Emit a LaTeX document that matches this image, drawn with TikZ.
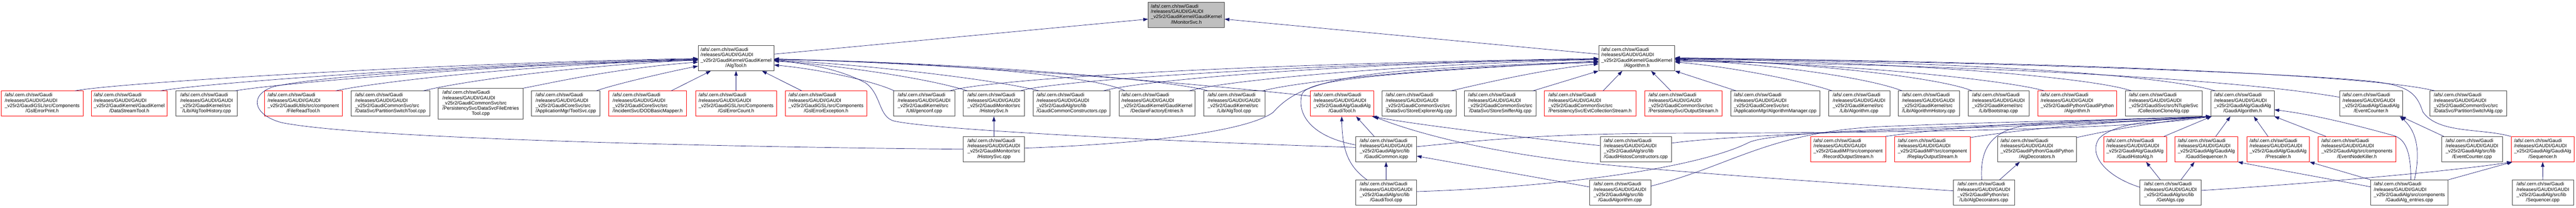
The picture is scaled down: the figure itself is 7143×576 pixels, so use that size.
\documentclass[tikz,border=0pt]{standalone}
\usepackage{fontspec}
\setmainfont{Liberation Sans}
\usetikzlibrary{arrows.meta,calc}
\definecolor{edgec}{HTML}{191970}
\definecolor{boxk}{HTML}{404040}
\definecolor{boxr}{HTML}{FF0000}
\definecolor{topfill}{HTML}{BFBFBF}
\newcommand{\hdl}{/afs/.cern.ch/sw/Gaudi\\/releases/GAUDI/GAUDI}
\newcommand{\fl}[2]{\begin{tabular}{@{}l@{}}\hdl\\#1\\\multicolumn{1}{@{}c@{}}{#2}\end{tabular}}
\begin{document}
\begin{tikzpicture}[x=0.75pt,y=-0.75pt,
  kbox/.style={draw=boxk, line width=0.75pt, fill=white, rectangle, inner xsep=2pt, inner ysep=2pt, minimum height=52.5pt, font=\fontsize{10}{11}\selectfont, text=black},
  rbox/.style={kbox, draw=boxr},
  bw/.style={minimum width={#1*0.75pt}},
  ebl/.style={draw=edgec, line width=0.75pt, -{Triangle[length=10pt,width=7pt]}}]
\useasboundingbox (0,0) rectangle (7143,576);

% ---------- nodes ----------
\node[kbox,bw=211,fill=topfill] (IMon) at (3289.5,41) {\fl{\_v25r2/GaudiKernel/GaudiKernel}{/IMonitorSvc.h}};
\node[kbox,bw=210] (AlgToolH) at (2041,161.3) {\fl{\_v25r2/GaudiKernel/GaudiKernel}{/AlgTool.h}};
\node[kbox,bw=211] (AlgH) at (4538.5,161.3) {\fl{\_v25r2/GaudiKernel/GaudiKernel}{/Algorithm.h}};

\node[rbox,bw=226] (n1) at (117,287.6) {\fl{\_v25r2/GaudiGSL/src/Components}{/GslErrorPrint.h}};
\node[rbox,bw=211] (n2) at (358.5,287.6) {\fl{\_v25r2/GaudiKernel/GaudiKernel}{/DataStreamTool.h}};
\node[kbox,bw=170] (n3) at (573,287.6) {\fl{\_v25r2/GaudiKernel/src}{/Lib/AlgToolHistory.cpp}};
\node[rbox,bw=216] (n4) at (841,287.6) {\fl{\_v25r2/GaudiUtils/src/component}{/FileReadTool.h}};
\node[kbox,bw=219] (n5) at (1082.5,287.6) {\fl{\_v25r2/GaudiCommonSvc/src}{/DataSvc/PartitionSwitchTool.cpp}};
\node[kbox,bw=236,minimum height=63.75pt] (n6) at (1333,287.6) {\fl{\_v25r2/GaudiCommonSvc/src\\/PersistencySvc/DataSvcFileEntries}{Tool.cpp}};
\node[kbox,bw=190] (n7) at (1569,287.6) {\fl{\_v25r2/GaudiCoreSvc/src}{/ApplicationMgr/ToolSvc.cpp}};
\node[rbox,bw=216] (n8) at (1796,287.6) {\fl{\_v25r2/GaudiCoreSvc/src}{/IncidentSvc/DODBasicMapper.h}};
\node[rbox,bw=225] (n9) at (2041,287.6) {\fl{\_v25r2/GaudiGSL/src/Components}{/GslErrorCount.h}};
\node[rbox,bw=225] (n10) at (2290.5,287.6) {\fl{\_v25r2/GaudiGSL/src/Components}{/GslErrorException.h}};
\node[kbox,bw=169] (n11) at (2562.5,287.6) {\fl{\_v25r2/GaudiKernel/src}{/Util/genconf.cpp}};
\node[kbox,bw=170] (n12) at (2756,287.6) {\fl{\_v25r2/GaudiMonitor/src}{/HistorySvc.h}};
\node[kbox,bw=213] (n13) at (2971.5,287.6) {\fl{\_v25r2/GaudiAlg/src/lib}{/GaudiCommonConstructors.cpp}};
\node[kbox,bw=210] (n14) at (3208,287.6) {\fl{\_v25r2/GaudiKernel/GaudiKernel}{/DeclareFactoryEntries.h}};
\node[kbox,bw=170] (n15) at (3422,287.6) {\fl{\_v25r2/GaudiKernel/src}{/Lib/AlgTool.cpp}};
\node[rbox,bw=175] (n16) at (3721.5,287.6) {\fl{\_v25r2/GaudiAlg/GaudiAlg}{/GaudiTool.h}};
\node[kbox,bw=205] (n17) at (3934.5,287.6) {\fl{\_v25r2/GaudiCommonSvc/src}{/DataSvc/StoreExplorerAlg.cpp}};
\node[kbox,bw=198] (n18) at (4160,287.6) {\fl{\_v25r2/GaudiCommonSvc/src}{/DataSvc/StoreSnifferAlg.cpp}};
\node[rbox,bw=254] (n19) at (4409,287.6) {\fl{\_v25r2/GaudiCommonSvc/src}{/PersistencySvc/EvtCollectionStream.h}};
\node[rbox,bw=215] (n20) at (4668,287.6) {\fl{\_v25r2/GaudiCommonSvc/src}{/PersistencySvc/OutputStream.h}};
\node[kbox,bw=247] (n21) at (4922.5,287.6) {\fl{\_v25r2/GaudiCoreSvc/src}{/ApplicationMgr/AlgorithmManager.cpp}};
\node[kbox,bw=170] (n22) at (5155,287.6) {\fl{\_v25r2/GaudiKernel/src}{/Lib/Algorithm.cpp}};
\node[kbox,bw=170] (n23) at (5348,287.6) {\fl{\_v25r2/GaudiKernel/src}{/Lib/AlgorithmHistory.cpp}};
\node[kbox,bw=169] (n24) at (5541.5,287.6) {\fl{\_v25r2/GaudiKernel/src}{/Lib/Bootstrap.cpp}};
\node[rbox,bw=218] (n25) at (5760,287.6) {\fl{\_v25r2/GaudiPython/GaudiPython}{/Algorithm.h}};
\node[kbox,bw=213] (n26) at (5999.5,287.6) {\fl{\_v25r2/GaudiSvc/src/NTupleSvc}{/CollectionCloneAlg.cpp}};
\node[kbox,bw=175] (n27) at (6218.5,287.6) {\fl{\_v25r2/GaudiAlg/GaudiAlg}{/GaudiAlgorithm.h}};
\node[kbox,bw=175] (n28) at (6574.5,287.6) {\fl{\_v25r2/GaudiAlg/GaudiAlg}{/EventCounter.h}};
\node[kbox,bw=214] (n29) at (6844,287.6) {\fl{\_v25r2/GaudiCommonSvc/src}{/DataSvc/PartitionSwitchAlg.cpp}};

\node[kbox,bw=170] (HistorySvcCpp) at (2756,414) {\fl{\_v25r2/GaudiMonitor/src}{/HistorySvc.cpp}};
\node[kbox,bw=169] (GaudiCommonIcpp) at (3843.5,414) {\fl{\_v25r2/GaudiAlg/src/lib}{/GaudiCommon.icpp}};
\node[kbox,bw=198] (GaudiHistosConstructors) at (4536,414) {\fl{\_v25r2/GaudiAlg/src/lib}{/GaudiHistosConstructors.cpp}};
\node[rbox,bw=209] (RecordOutputStream) at (5124.5,414) {\fl{\_v25r2/GaudiMP/src/component}{/RecordOutputStream.h}};
\node[rbox,bw=209] (ReplayOutputStream) at (5358.5,414) {\fl{\_v25r2/GaudiMP/src/component}{/ReplayOutputStream.h}};
\node[kbox,bw=219] (AlgDecoratorsH) at (5648.5,414) {\fl{\_v25r2/GaudiPython/GaudiPython}{/AlgDecorators.h}};
\node[rbox,bw=174] (GaudiHistoAlg) at (5920,414) {\fl{\_v25r2/GaudiAlg/GaudiAlg}{/GaudiHistoAlg.h}};
\node[rbox,bw=174] (GaudiSequencerH) at (6118,414) {\fl{\_v25r2/GaudiAlg/GaudiAlg}{/GaudiSequencer.h}};
\node[rbox,bw=174] (PrescalerH) at (6317,414) {\fl{\_v25r2/GaudiAlg/GaudiAlg}{/Prescaler.h}};
\node[rbox,bw=215] (EventNodeKiller) at (6535.5,414) {\fl{\_v25r2/GaudiAlg/src/components}{/EventNodeKiller.h}};
\node[kbox,bw=169] (EventCounterCpp) at (6854.5,414) {\fl{\_v25r2/GaudiAlg/src/lib}{/EventCounter.cpp}};
\node[rbox,bw=175] (SequencerH) at (7050.5,414) {\fl{\_v25r2/GaudiAlg/GaudiAlg}{/Sequencer.h}};

\node[kbox,bw=169] (GaudiToolCpp) at (3843.5,534.5) {\fl{\_v25r2/GaudiAlg/src/lib}{/GaudiTool.cpp}};
\node[kbox,bw=170] (GaudiAlgorithmCpp) at (4492,534.5) {\fl{\_v25r2/GaudiAlg/src/lib}{/GaudiAlgorithm.cpp}};
\node[kbox,bw=170] (AlgDecoratorsCpp) at (5501,534.5) {\fl{\_v25r2/GaudiPython/src}{/Lib/AlgDecorators.cpp}};
\node[kbox,bw=169] (GetAlgs) at (6018.5,534.5) {\fl{\_v25r2/GaudiAlg/src/lib}{/GetAlgs.cpp}};
\node[kbox,bw=214] (GaudiAlgEntries) at (6681,534.5) {\fl{\_v25r2/GaudiAlg/src/components}{/GaudiAlg\_entries.cpp}};
\node[kbox,bw=170] (SequencerCpp) at (7051,534.5) {\fl{\_v25r2/GaudiAlg/src/lib}{/Sequencer.cpp}};

% ---------- edges ----------
% to IMonitorSvc.h
\draw[ebl] ($(AlgToolH.east)+(0,-11)$) -- ($(IMon.west)+(0,12)$);
\draw[ebl] ($(AlgH.west)+(0,-11)$) -- ($(IMon.east)+(0,12)$);

% west side of AlgTool.h
\draw[ebl] ($(n1.north)+(91,0)$) .. controls (300,232) and (1200,175) .. ($(AlgToolH.west)+(0,1)$);
\draw[ebl] ($(n2.north)+(87,0)$) .. controls (520,236) and (1200,180) .. ($(AlgToolH.west)+(0,2)$);
\draw[ebl] ($(n3.north)+(79,0)$) .. controls (720,238) and (1300,182) .. ($(AlgToolH.west)+(0,3)$);
\draw[ebl] ($(n4.north)+(90,0)$) .. controls (1000,235) and (1400,182) .. ($(AlgToolH.west)+(0,4)$);
\draw[ebl] ($(n5.north)+(91,0)$) .. controls (1250,232) and (1550,185) .. ($(AlgToolH.west)+(0,5)$);
\draw[ebl] (n6.north east) .. controls (1520,232) and (1700,190) .. ($(AlgToolH.west)+(0,11)$);
\draw[ebl] ($(n7.north)+(84,0)$) .. controls (1700,235) and (1850,200) .. ($(AlgToolH.west)+(0,22)$);
\draw[ebl] (HistorySvcCpp.west) .. controls (2000,408) and (1000,385) .. (780,340) .. controls (700,318) and (690,262) .. (760,240) .. controls (950,200) and (1500,178) .. ($(AlgToolH.west)+(0,6)$);

% bottom of AlgTool.h
\draw[ebl] ($(n8.north)+(65,0)$) -- ($(AlgToolH.south)+(-70,0)$);
\draw[ebl] (n9.north) -- (AlgToolH.south);
\draw[ebl] ($(n10.north)+(-67,0)$) -- ($(AlgToolH.south)+(72,0)$);

% east side of AlgTool.h
\draw[ebl] ($(n11.north west)+(2,0)$) .. controls (2440,232) and (2300,195) .. ($(AlgToolH.east)+(0,19)$);
\draw[ebl] ($(n12.north west)+(12,0)$) .. controls (2600,225) and (2400,190) .. ($(AlgToolH.east)+(0,6)$);
\draw[ebl] ($(n13.north west)+(17,0)$) .. controls (2780,225) and (2450,183) .. ($(AlgToolH.east)+(0,5)$);
\draw[ebl] ($(n14.north west)+(17,0)$) .. controls (3040,210) and (2600,172) .. ($(AlgToolH.east)+(0,4)$);
\draw[ebl] ($(n15.north west)+(13,0)$) .. controls (3250,222) and (2700,175) .. ($(AlgToolH.east)+(0,3)$);
\draw[ebl] ($(n16.west)+(0,-21)$) .. controls (3300,230) and (2700,180) .. ($(AlgToolH.east)+(0,2)$);
\draw[ebl] ($(GaudiCommonIcpp.west)+(0,-5)$) .. controls (3300,395) and (2600,362) .. (2480,336) .. controls (2435,325) and (2445,262) .. (2400,230) .. controls (2330,192) and (2230,174) .. ($(AlgToolH.east)+(0,8)$);

% west side of Algorithm.h
\draw[ebl] ($(n11.north east)+(-14,0)$) .. controls (2720,225) and (3300,180) .. ($(AlgH.west)+(0,1)$);
\draw[ebl] ($(n12.north east)+(-12,0)$) .. controls (2900,228) and (3500,180) .. ($(AlgH.west)+(0,2)$);
\draw[ebl] ($(n13.north east)+(-19,0)$) .. controls (3150,225) and (3700,175) .. ($(AlgH.west)+(0,3)$);
\draw[ebl] ($(n14.north east)+(-16,0)$) .. controls (3400,222) and (3900,178) .. ($(AlgH.west)+(0,4)$);
\draw[ebl] ($(n15.north east)+(-6,0)$) .. controls (3600,225) and (4000,185) .. ($(AlgH.west)+(0,12)$);
\draw[ebl] ($(HistorySvcCpp.east)+(0,-3)$) .. controls (3200,398) and (3460,362) .. (3530,312) .. controls (3575,262) and (3640,218) .. (3900,196) .. controls (4100,182) and (4300,175) .. ($(AlgH.west)+(0,10)$);
\draw[ebl] ($(GaudiCommonIcpp.west)+(0,-12)$) .. controls (3640,380) and (3595,320) .. (3610,262) .. controls (3625,222) and (3800,205) .. ($(AlgH.west)+(0,8)$);
\draw[ebl] ($(n17.north)+(89,0)$) .. controls (4150,222) and (4300,190) .. ($(AlgH.west)+(0,16)$);
\draw[ebl] ($(n18.north east)+(-9,0)$) -- (AlgH.south west);

% bottom of Algorithm.h
\draw[ebl] ($(n19.north)+(36,0)$) -- ($(AlgH.south)+(-40,0)$);
\draw[ebl] ($(n20.north)+(-35,0)$) -- ($(AlgH.south)+(40,0)$);
\draw[ebl] ($(n21.north west)+(16,0)$) -- (AlgH.south east);

% east side of Algorithm.h
\draw[ebl] ($(n22.north west)+(11,0)$) .. controls (5000,225) and (4800,185) .. ($(AlgH.east)+(0,11)$);
\draw[ebl] ($(n23.north west)+(12,0)$) .. controls (5180,215) and (4900,176) .. ($(AlgH.east)+(0,4)$);
\draw[ebl] ($(n24.north west)+(12,0)$) .. controls (5380,215) and (5000,172) .. ($(AlgH.east)+(0,3)$);
\draw[ebl] ($(n25.north west)+(18,0)$) .. controls (5600,230) and (5200,178) .. ($(AlgH.east)+(0,6)$);
\draw[ebl] ($(n26.north west)+(18,0)$) .. controls (5800,215) and (5300,172) .. ($(AlgH.east)+(0,2)$);
\draw[ebl] ($(n27.north west)+(13,0)$) .. controls (6000,210) and (5500,172) .. ($(AlgH.east)+(0,1)$);
\draw[ebl] ($(n28.west)+(0,-18)$) .. controls (6200,220) and (5500,180) .. ($(AlgH.east)+(0,9)$);
\draw[ebl] ($(n29.north west)+(15,0)$) .. controls (6600,212) and (5800,172) .. (AlgH.east);
\draw[ebl] (SequencerH.north west) .. controls (6880,355) and (6760,372) .. (6718,310) .. controls (6700,255) and (6675,235) .. (6560,224) .. controls (6300,200) and (5500,172) .. ($(AlgH.east)+(0,-1)$);

% GaudiTool.h / GaudiCommon.icpp
\draw[ebl] ($(GaudiToolCpp.north west)+(32,0)$) .. controls (3740,462) and (3722,420) .. ($(n16.south)+(-1,0)$);
\draw[ebl] ($(GaudiCommonIcpp.north)+(-33,0)$) -- ($(n16.south)+(39,0)$);
\draw[ebl] (GaudiToolCpp.north) -- (GaudiCommonIcpp.south);
\draw[ebl] ($(GaudiHistosConstructors.west)+(0,-10)$) .. controls (4300,390) and (3950,350) .. ($(n16.south east)+(-5,0)$);
\draw[ebl] ($(AlgDecoratorsCpp.west)+(0,-5)$) .. controls (5100,508) and (4700,482) .. (4400,452) .. controls (4100,420) and (3900,360) .. (n16.south east);
\draw[ebl] ($(GaudiAlgorithmCpp.west)+(0,-16)$) -- ($(GaudiCommonIcpp.east)+(0,19)$);
\draw[ebl] (HistorySvcCpp.north) -- (n12.south);

% into GaudiAlgorithm.h
\draw[ebl] ($(GaudiCommonIcpp.east)+(0,-7)$) .. controls (4150,385) and (4300,372) .. (4600,370) .. controls (5300,368) and (5900,360) .. (n27.south west);
\draw[ebl] ($(GaudiHistosConstructors.east)+(0,-17)$) .. controls (4900,362) and (5800,352) .. (n27.south west);
\draw[ebl] ($(GaudiToolCpp.east)+(0,-3)$) .. controls (4300,520) and (4700,470) .. (4850,395) .. controls (4950,350) and (5900,345) .. (n27.south west);
\draw[ebl] ($(GaudiAlgorithmCpp.east)+(0,-18)$) .. controls (4800,460) and (4900,370) .. (5200,352) .. controls (5600,335) and (5950,332) .. (n27.south west);
\draw[ebl] ($(RecordOutputStream.north east)+(-1,0)$) .. controls (5500,340) and (5900,330) .. (n27.south west);
\draw[ebl] ($(ReplayOutputStream.north east)+(0,3)$) .. controls (5700,345) and (5950,335) .. (n27.south west);
\draw[ebl] ($(AlgDecoratorsCpp.north)+(-6,0)$) .. controls (5490,420) and (5515,362) .. (5620,348) .. controls (5800,332) and (6000,330) .. (n27.south west);
\draw[ebl] ($(AlgDecoratorsCpp.north east)+(-42,0)$) -- ($(AlgDecoratorsH.south)+(-48,0)$);
\draw[ebl] ($(AlgDecoratorsH.north east)+(0,3)$) .. controls (5900,350) and (6050,330) .. (n27.south west);
\draw[ebl] ($(GaudiHistoAlg.north east)+(-7,0)$) -- ($(n27.south west)+(2,0)$);
\draw[ebl] ($(GetAlgs.west)+(0,-15)$) .. controls (5840,490) and (5790,430) .. (5820,385) .. controls (5860,340) and (6000,330) .. (n27.south west);
\draw[ebl] ($(GaudiSequencerH.north)+(26,0)$) -- ($(n27.south)+(-34,0)$);
\draw[ebl] ($(PrescalerH.north)+(-28,0)$) -- ($(n27.south)+(31,0)$);
\draw[ebl] ($(EventNodeKiller.north west)+(22,0)$) -- (n27.south east);
\draw[ebl] ($(GaudiAlgEntries.north)+(4,0)$) .. controls (6685,420) and (6670,388) .. (6640,377) .. controls (6500,338) and (6400,316) .. ($(n27.east)+(0,17)$);

% GetAlgs.cpp
\draw[ebl] ($(GetAlgs.north)+(-28,0)$) -- ($(GaudiHistoAlg.south)+(31,0)$);
\draw[ebl] ($(GetAlgs.north)+(29,0)$) -- ($(GaudiSequencerH.south)+(-33,0)$);
\draw[ebl] ($(GetAlgs.east)+(0,-6)$) .. controls (6400,510) and (6800,475) .. ($(SequencerH.south west)+(2,0)$);

% GaudiAlg_entries.cpp etc.
\draw[ebl] ($(GaudiAlgEntries.north)+(14,0)$) .. controls (6712,420) and (6702,365) .. ($(n28.south)+(80,0)$);
\draw[ebl] ($(EventCounterCpp.north west)+(7,0)$) -- ($(n28.south)+(83,0)$);
\draw[ebl] (GaudiAlgEntries.north west) -- (PrescalerH.south east);
\draw[ebl] (GaudiAlgEntries.north east) -- ($(SequencerH.south west)+(4,0)$);
\draw[ebl] ($(GaudiAlgEntries.west)+(0,-16)$) .. controls (6450,495) and (6300,468) .. (GaudiSequencerH.south east);
\draw[ebl] (SequencerCpp.north) -- (SequencerH.south);
\end{tikzpicture}
\end{document}
